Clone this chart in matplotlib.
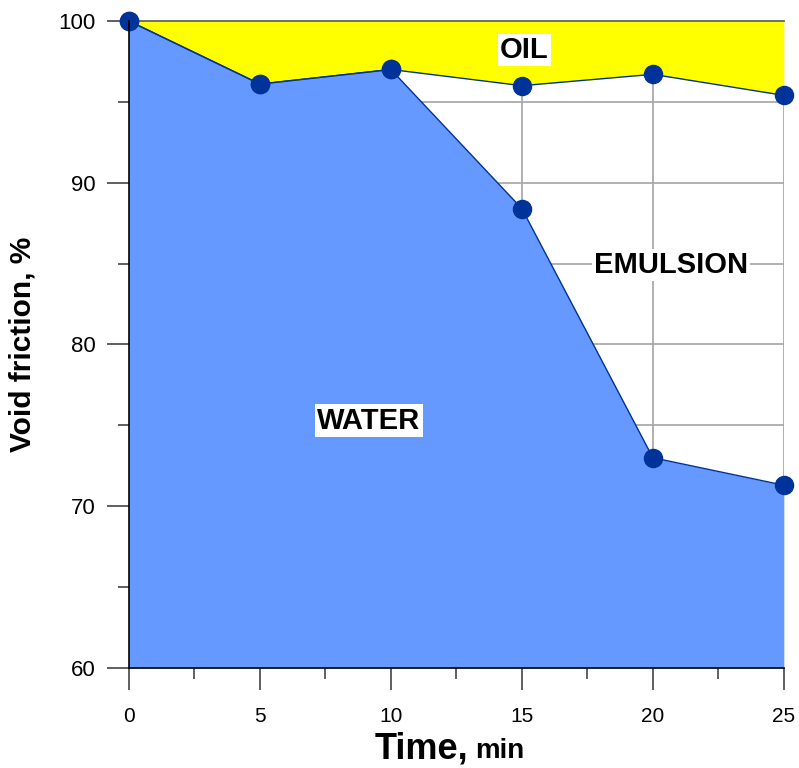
import matplotlib
matplotlib.use("Agg")
import matplotlib.pyplot as plt
from matplotlib.ticker import MultipleLocator

time = [0, 5, 10, 15, 20, 25]
oil_boundary = [100, 96.1, 97.0, 96.0, 96.7, 95.4]
water_boundary = [100, 96.1, 97.0, 88.4, 73.0, 71.3]

plt.rcParams['font.family'] = ['Liberation Sans', 'DejaVu Sans']

fig = plt.figure(figsize=(7.99, 7.68), dpi=100)
ax = fig.add_axes([0.1614, 0.1302, 0.8196, 0.8425])
ax.set_xlim(0, 25)
ax.set_ylim(60, 100)

ax.xaxis.set_major_locator(MultipleLocator(5))
ax.xaxis.set_minor_locator(MultipleLocator(2.5))
ax.yaxis.set_major_locator(MultipleLocator(10))
ax.yaxis.set_minor_locator(MultipleLocator(5))
ax.grid(True, which='major', axis='x', color='#aaaaaa', lw=1.3, zorder=0)
ax.grid(True, which='both', axis='y', color='#aaaaaa', lw=1.3, zorder=0)
ax.set_axisbelow(True)

ax.fill_between(time, oil_boundary, 100, color='#FFFF00', zorder=2, lw=0)
ax.fill_between(time, 60, water_boundary, color='#6699FF', zorder=2, lw=0)
ax.plot(time, oil_boundary, color='#003399', lw=1, zorder=3, clip_on=False)
ax.plot(time, water_boundary, color='#003399', lw=1, zorder=3, clip_on=False)
ax.scatter(time, oil_boundary, s=170, color='#003399', zorder=4, clip_on=False)
ax.scatter(time, water_boundary, s=170, color='#003399', zorder=4, clip_on=False)

ax.spines['right'].set_visible(False)
ax.spines['top'].set_color('#666666')
ax.spines['top'].set_linewidth(1.3)
for s in ['left', 'bottom']:
    ax.spines[s].set_color('black')
    ax.spines[s].set_linewidth(1.2)
    ax.spines[s].set_zorder(5)

ax.tick_params(which='major', direction='out', length=16, width=1.2, color='#444444')
ax.tick_params(which='minor', direction='out', length=8, width=1.2, color='#444444')
ax.tick_params(axis='x', which='major', labelsize=15, pad=12)
ax.tick_params(axis='y', which='major', labelsize=16, pad=8)

bbox = dict(facecolor='white', edgecolor='none', pad=1.5)
ax.text(15.1, 98.2, 'OIL', fontsize=21, fontweight='bold', ha='center', va='center', bbox=bbox, zorder=6)
ax.text(20.69, 84.9, 'EMULSION', fontsize=21, fontweight='bold', ha='center', va='center', bbox=bbox, zorder=6)
ax.text(9.16, 75.3, 'WATER', fontsize=21, fontweight='bold', ha='center', va='center', bbox=bbox, zorder=6)

ax.set_ylabel('Void friction, %', fontsize=21.5, fontweight='bold')
ax.yaxis.set_label_coords(-0.1405, 0.5)
fig.text(0.5857, 0.013, 'Time,', fontsize=26, fontweight='bold', ha='right', va='baseline')
fig.text(0.5945, 0.013, 'min', fontsize=20, fontweight='bold', ha='left', va='baseline')

fig.savefig('out.png', dpi=100)
